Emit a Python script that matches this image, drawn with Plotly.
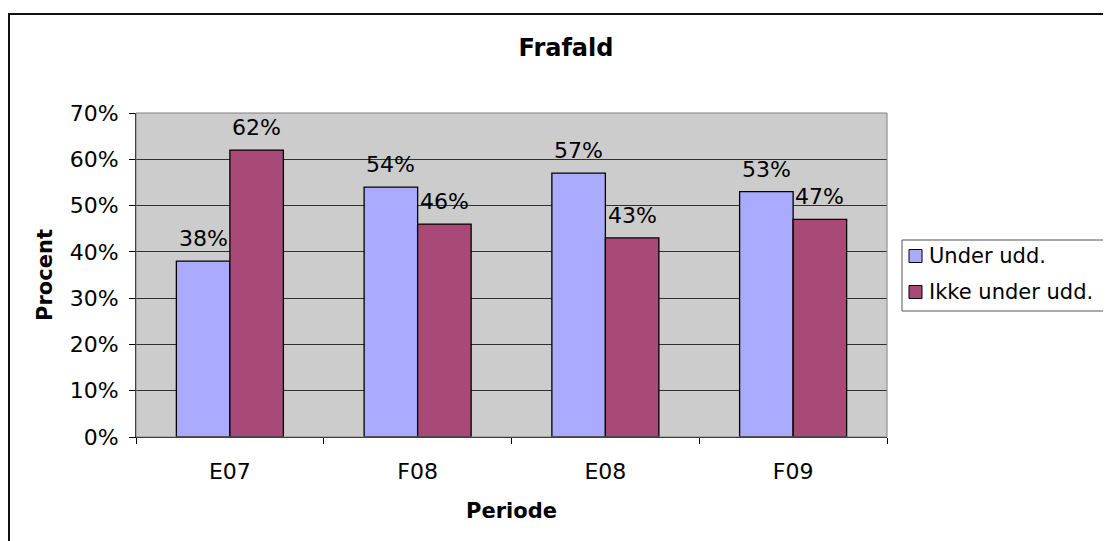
import plotly.graph_objects as go

categories = ["E07", "F08", "E08", "F09"]
under_udd = [0.38, 0.54, 0.57, 0.53]
ikke_under_udd = [0.62, 0.46, 0.43, 0.47]
series_names = ["Under udd.", "Ikke under udd."]
series_colors = ["#AAAAFF", "#A84977"]
y_ticks = [0, 0.1, 0.2, 0.3, 0.4, 0.5, 0.6, 0.7]
y_ticktext = ["0%", "10%", "20%", "30%", "40%", "50%", "60%", "70%"]

FONT = "DejaVu Sans"
OFF = 8  # page body margin
W, H = 1111 - OFF, 541 - OFF
L, R, T, B = 136 - OFF, 887 - OFF, 113 - OFF, 437 - OFF
BARGAP = 0.43

def px_x(px):
    return (px - OFF - L) / (R - L)

def px_y(py):
    return (B - (py - OFF)) / (B - T)

series = [under_udd, ikke_under_udd]

fig = go.Figure()
for name, vals, col in zip(series_names, series, series_colors):
    fig.add_trace(go.Bar(
        x=categories, y=vals, name=name, showlegend=False,
        marker=dict(color=col, line=dict(color="#000000", width=1.3)),
    ))

# data labels (Excel style, a little above each bar)
bar_w = (1 - BARGAP) * (R - L) / len(categories) / len(series)
annotations = []
for i, vals in enumerate(series):
    shift = (i - (len(series) - 1) / 2) * bar_w
    for c, v in zip(categories, vals):
        annotations.append(dict(
            x=c, y=v, xref="x", yref="y", text=f"{round(v*100)}%",
            showarrow=False, xshift=shift, yshift=9, yanchor="bottom",
            xanchor="center", borderpad=0,
            font=dict(family=FONT, size=22, color="#000000"),
        ))

# custom legend (Excel style)
shapes = [
    dict(type="rect", xref="paper", yref="paper",
         x0=0, x1=1, y0=0, y1=1, line=dict(color="#808080", width=1),
         layer="above"),
    dict(type="rect", xref="paper", yref="paper",
         x0=px_x(9), x1=px_x(1130), y0=px_y(14), y1=px_y(560),
         line=dict(color="#111111", width=2)),
    dict(type="rect", xref="paper", yref="paper",
         x0=px_x(902), x1=px_x(1110), y0=px_y(240), y1=px_y(311),
         line=dict(color="#555555", width=1), fillcolor="white"),
]
legend_rows = [256, 292]
for name, col, yc in zip(series_names, series_colors, legend_rows):
    shapes.append(dict(type="rect", xref="paper", yref="paper",
                       x0=px_x(909), x1=px_x(922), y0=px_y(yc - 6.5), y1=px_y(yc + 6.5),
                       line=dict(color="#000000", width=1), fillcolor=col))
    annotations.append(dict(
        x=px_x(928), y=px_y(yc), xref="paper", yref="paper", text=name,
        showarrow=False, xanchor="left", yanchor="middle", borderpad=0,
        font=dict(family=FONT, size=21, color="#000000"),
    ))

fig.update_layout(
    width=W, height=H,
    margin=dict(l=L, r=W - R, t=T, b=H - B, autoexpand=False),
    paper_bgcolor="white", plot_bgcolor="#CCCCCC",
    barmode="group", bargap=BARGAP, bargroupgap=0,
    showlegend=False,
    font=dict(family=FONT, size=20, color="#000000"),
    title=dict(text="<b>Frafald</b>", x=px_x(566), xref="paper", xanchor="center",
               y=1 - (48 - OFF) / H, yanchor="middle",
               font=dict(family=FONT, size=24, color="#000000")),
    xaxis=dict(
        showgrid=False, showline=True, linecolor="#000000", linewidth=1,
        ticks="outside", ticklen=6, tickcolor="#000000", tickson="boundaries",
        ticklabelstandoff=15,
        tickfont=dict(family=FONT, size=22),
        title=dict(text="<b>Periode</b>", standoff=19,
                   font=dict(family=FONT, size=21)),
    ),
    yaxis=dict(
        range=[0, 0.7], tickvals=y_ticks, ticktext=y_ticktext,
        showgrid=True, gridcolor="#303030", gridwidth=1,
        showline=True, linecolor="#000000", linewidth=1,
        ticks="outside", ticklen=6, tickcolor="#000000",
        ticklabelstandoff=6,
        tickfont=dict(family=FONT, size=22),
        zeroline=False,
        title=dict(text="<b>Procent</b>", standoff=11,
                   font=dict(family=FONT, size=21)),
    ),
    shapes=shapes,
    annotations=annotations,
)

fig.write_html("out.html")
